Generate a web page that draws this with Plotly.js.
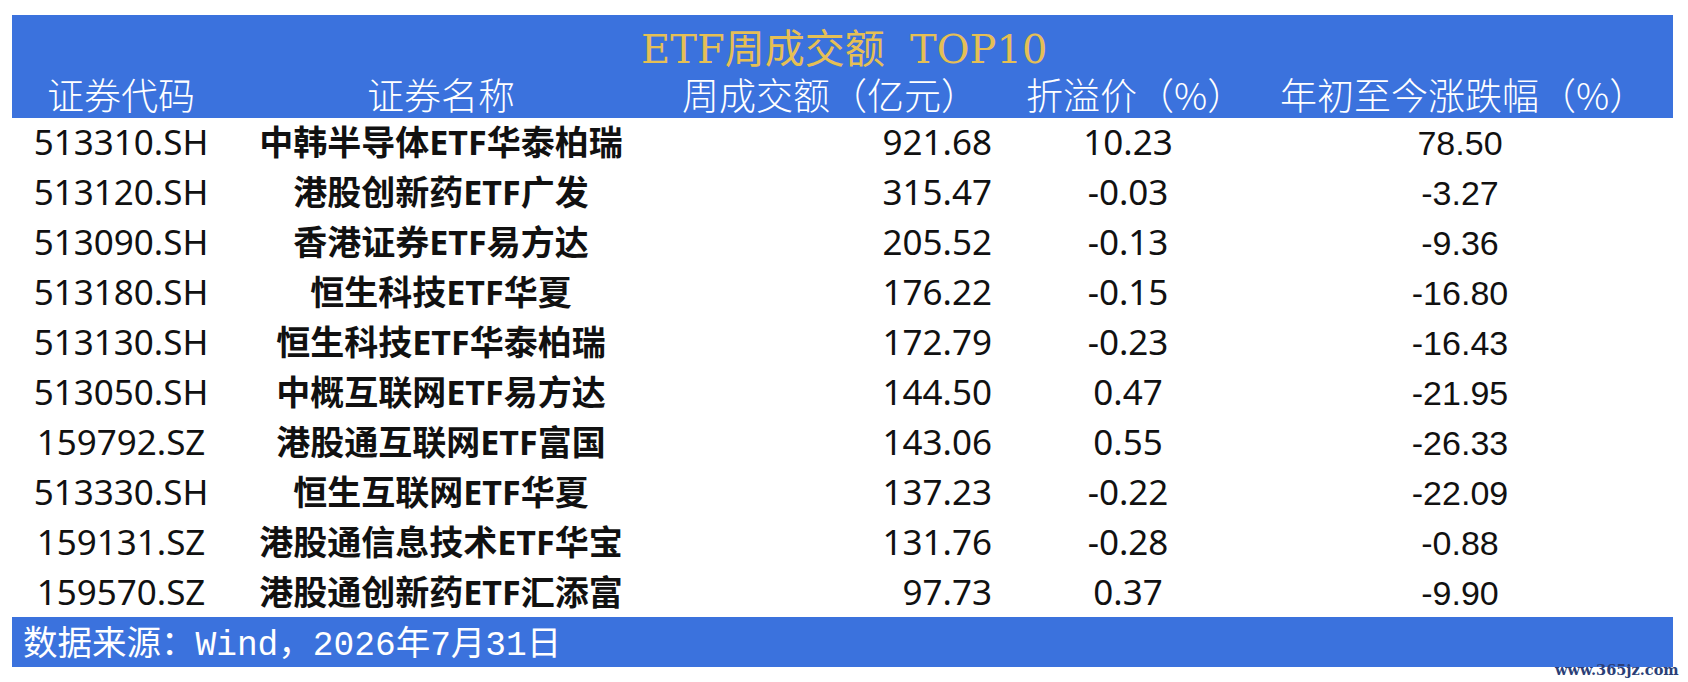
<!DOCTYPE html>
<html>
<head>
<meta charset="utf-8">
<script src="https://cdn.plot.ly/plotly-3.0.1.min.js"></script>
<style>
  html, body { margin: 0; padding: 0; background: #ffffff; }
  #chart { width: 1688px; height: 682px; }
</style>
</head>
<body>
<div id="chart"></div>
<script>
// ---- data ----
const titleText = 'ETF周成交额\u00a0\u00a0TOP10';
const headers = ['证券代码', '证券名称', '周成交额（亿元）', '折溢价（%）', '年初至今涨跌幅（%）'];
const codes = ['513310.SH', '513120.SH', '513090.SH', '513180.SH', '513130.SH',
               '513050.SH', '159792.SZ', '513330.SH', '159131.SZ', '159570.SZ'];
const names = ['中韩半导体ETF华泰柏瑞', '港股创新药ETF广发', '香港证券ETF易方达', '恒生科技ETF华夏',
               '恒生科技ETF华泰柏瑞', '中概互联网ETF易方达', '港股通互联网ETF富国', '恒生互联网ETF华夏',
               '港股通信息技术ETF华宝', '港股通创新药ETF汇添富'];
const turnover = [921.68, 315.47, 205.52, 176.22, 172.79, 144.50, 143.06, 137.23, 131.76, 97.73];
const premium = [10.23, -0.03, -0.13, -0.15, -0.23, 0.47, 0.55, -0.22, -0.28, 0.37];
const ytdChange = [78.50, -3.27, -9.36, -16.80, -16.43, -21.95, -26.33, -22.09, -0.88, -9.90];
const sourceText = '数据来源：Wind，2026年7月31日';
const watermark = 'www.365jz.com';

// ---- layout helpers (positions / styles) ----
const ROW_H = 50, TOP = -2.92;              // row index -> pixel: (i - TOP) * ROW_H
const py = p => p / ROW_H + TOP;            // pixel -> row coordinate
const rows = codes.map((_, i) => i);
const colX = {code: 121, name: 441, amountRight: 992, premium: 1128, ytd: 1460};
const headerX = [121, 441, 830, 1135, 1463];
const BLUE = '#3B72DD';
const GOLD = '#E5BF55';
const CJK = '"Noto Sans CJK SC"';

function fmt(v) { return v.toFixed(2); }
function nameSize(s) {
  const cjk = s.replace(/[A-Za-z0-9]/g, '').length;
  const lat = s.length - cjk;
  return Math.min(34, 366 / (cjk + lat * 0.57));
}

const baseText = {type: 'scatter', mode: 'text', hoverinfo: 'skip', showlegend: false, cliponaxis: false};

const traces = [
  Object.assign({}, baseText, {
    x: rows.map(() => colX.code), y: rows, text: codes, textposition: 'middle center',
    textfont: {family: '"Noto Sans", ' + CJK, size: 35, color: '#111111'}
  }),
  Object.assign({}, baseText, {
    x: rows.map(() => colX.name), y: rows, text: names, textposition: 'middle center',
    textfont: {family: '"Noto Sans", ' + CJK, size: names.map(nameSize), color: '#111111', weight: 700}
  }),
  Object.assign({}, baseText, {
    x: rows.map(() => colX.amountRight), y: rows, text: turnover.map(fmt), textposition: 'middle left',
    textfont: {family: '"Noto Sans", sans-serif', size: 35, color: '#111111'}
  }),
  Object.assign({}, baseText, {
    x: rows.map(() => colX.premium), y: rows, text: premium.map(fmt), textposition: 'middle center',
    textfont: {family: '"Noto Sans", sans-serif', size: 35, color: '#111111'}
  }),
  Object.assign({}, baseText, {
    x: rows.map(() => colX.ytd), y: rows, text: ytdChange.map(fmt), textposition: 'middle center',
    textfont: {family: '"Liberation Sans", Arial, sans-serif', size: 34, color: '#111111'}
  })
];

const annotations = [];
annotations.push({
  x: 844, y: py(49), xref: 'x', yref: 'y', text: titleText, showarrow: false,
  xanchor: 'center', yanchor: 'middle',
  font: {family: '"DejaVu Serif", ' + CJK, size: 40, color: GOLD}
});
headers.forEach((h, i) => annotations.push({
  x: headerX[i], y: py(94), xref: 'x', yref: 'y', text: h, showarrow: false,
  xanchor: 'center', yanchor: 'middle',
  font: {family: CJK, size: 37, color: '#ffffff', weight: 300}
}));
annotations.push({
  x: 21, y: py(645), xref: 'x', yref: 'y', text: sourceText, showarrow: false,
  xanchor: 'left', yanchor: 'middle',
  font: {family: '"Liberation Mono", ' + CJK, size: 34.5, color: '#ffffff'}
});
annotations.push({
  x: 1681, y: py(669), xref: 'x', yref: 'y', text: watermark, showarrow: false,
  xanchor: 'right', yanchor: 'middle',
  font: {family: '"DejaVu Serif", serif', size: 14.5, color: '#2B3F78', weight: 700}
});

const layout = {
  width: 1688, height: 682,
  margin: {l: 0, r: 0, t: 0, b: 0, pad: 0},
  paper_bgcolor: '#ffffff', plot_bgcolor: '#ffffff',
  xaxis: {range: [0, 1688], visible: false, fixedrange: true},
  yaxis: {range: [py(682), py(0)], visible: false, fixedrange: true},
  shapes: [
    {type: 'rect', xref: 'x', yref: 'y', x0: 12, x1: 1673, y0: py(15), y1: py(118),
     fillcolor: BLUE, line: {width: 0}, layer: 'below'},
    {type: 'rect', xref: 'x', yref: 'y', x0: 12, x1: 1673, y0: py(617), y1: py(667),
     fillcolor: BLUE, line: {width: 0}, layer: 'below'}
  ],
  annotations: annotations,
  showlegend: false
};

Plotly.newPlot('chart', traces, layout, {displayModeBar: false, staticPlot: true});
</script>
</body>
</html>
